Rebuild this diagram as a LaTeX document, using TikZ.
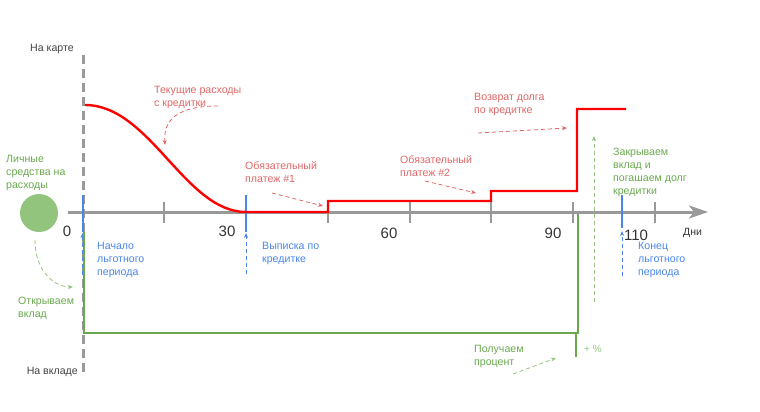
\documentclass[tikz,border=0pt]{standalone}
\usepackage{fontspec}
\setmainfont{Liberation Sans}
\usetikzlibrary{arrows.meta}
\definecolor{axgray}{HTML}{999999}
\definecolor{dgray}{HTML}{434343}
\definecolor{numgray}{HTML}{333333}
\definecolor{lred}{HTML}{E06666}
\definecolor{bred}{HTML}{FF0000}
\definecolor{bblue}{HTML}{4A86E8}
\definecolor{tblue}{HTML}{4A86E8}
\definecolor{ggreen}{HTML}{6AA84F}
\definecolor{lgreen}{HTML}{93C47D}
\tikzset{
  lbl/.style={font=\fontsize{10.6}{13}\selectfont, align=left, inner sep=0pt, anchor=north west},
  redlbl/.style={lbl, text=lred},
  bluelbl/.style={lbl, text=tblue},
  greenlbl/.style={lbl, text=ggreen},
  numlbl/.style={font=\fontsize{15}{15}\selectfont, text=numgray, inner sep=0pt, anchor=base},
  sidelbl/.style={font=\fontsize{10.6}{13}\selectfont, text=dgray, inner sep=0pt, anchor=base east},
  tickline/.style={draw=axgray, line width=1.6pt},
  bluemark/.style={draw=bblue, line width=1.8pt},
  greenline/.style={draw=ggreen, line width=2pt},
  hint/.style={dashed, dash pattern=on 4pt off 3pt, line width=0.8pt, -{Stealth[length=5pt,width=4pt]}},
}
\begin{document}
\begin{tikzpicture}[x=1pt,y=-1pt]
\useasboundingbox (0,0) rectangle (760,412);
% coordinates
\coordinate (axs) at (68,212);
\coordinate (axe) at (708,212);
\coordinate (vt) at (83,55);
\coordinate (vb) at (83,374);
% dashed vertical
\draw[axgray, line width=3pt, dash pattern=on 9pt off 5pt] (vt) -- (vb);
% axis
\draw[axgray, line width=3pt, -{Stealth[length=19pt,width=13pt,inset=5pt]}] (axs) -- (axe);
% ticks
\foreach \x in {164,328,410,491,573,655}{
  \draw[tickline] (\x,202) -- (\x,223);
}
% green circle
\node[circle, fill=lgreen, minimum size=38pt, inner sep=0pt] (circ) at (39,213) {};
% blue hint arrows
\coordinate (b1s) at (82.5,275); \coordinate (b1e) at (82.5,233);
\coordinate (b2s) at (246,274); \coordinate (b2e) at (246,233);
\coordinate (b3s) at (622,276); \coordinate (b3e) at (622,231);
\draw[hint, bblue] (b1s) -- (b1e);
\draw[hint, bblue] (b2s) -- (b2e);
\draw[hint, bblue] (b3s) -- (b3e);
% green deposit line
\coordinate (g0) at (84,232);
\coordinate (g1) at (84,333);
\coordinate (g2) at (576,333);
\coordinate (g3) at (576,357);
\coordinate (g4) at (578,214);
\coordinate (g5) at (578,334);
\draw[greenline] (g0) -- (g1) -- (g2) -- (g3);
\draw[greenline] (g5) -- (g4);
% blue marks
\draw[bluemark] (83,195) -- (83,232);
\draw[bluemark] (246,195) -- (246,232);
\draw[bluemark] (622,195) -- (622,228);
% red curve
\coordinate (r0) at (85,105);
\coordinate (r1) at (246,212);
\draw[bred, line width=2.4pt] (r0) .. controls (150,105) and (185,212) .. (r1)
  -- (328,212) -- (328,201) -- (491,201) -- (491,191) -- (577,191) -- (577,109) -- (626,109);
% labels
\node[sidelbl] (nakarte) at (74,51.5) {На карте};
\node[sidelbl] (navklade) at (78,374.5) {На вкладе};
\node[numlbl] (n0) at (67,236) {0};
\node[numlbl] (n30) at (227,236) {30};
\node[numlbl] (n60) at (389,238) {60};
\node[numlbl] (n90) at (553,238) {90};
\node[numlbl] (n110) at (636,240) {110};
\node[font=\fontsize{10.5}{12}\selectfont, text=numgray, inner sep=0pt, anchor=base west] (dni) at (683,235) {Дни};
\node[redlbl] (tek) at (154,86) {Текущие расходы\\с кредитки};
\node[redlbl] (ob1) at (245,161.5) {Обязательный\\платеж \#1};
\node[redlbl] (ob2) at (400,155) {Обязательный\\платеж \#2};
\node[redlbl] (voz) at (474,93) {Возврат долга\\по кредитке};
\node[greenlbl] (lich) at (6,155) {Личные\\средства на\\расходы};
\node[greenlbl] (otk) at (18,297) {Открываем\\вклад};
\node[greenlbl] (zak) at (613,147.5) {Закрываем\\вклад и\\погашаем долг\\кредитки};
\node[greenlbl] (pol) at (474,345) {Получаем\\процент};
\node[lbl, text=lgreen, font=\fontsize{10}{12}\selectfont] (pct) at (584,345) {+ \%};
\node[bluelbl] (nach) at (97,242) {Начало\\льготного\\периода};
\node[bluelbl] (vyp) at (262,242) {Выписка по\\кредитке};
\node[bluelbl] (kon) at (638,242) {Конец\\льготного\\периода};
% hint arrows red
\coordinate (h1s) at (218,106); \coordinate (h1e) at (165,145);
\draw[hint, lred] (h1s) .. controls (180,106) and (163,118) .. (h1e);
\coordinate (h2s) at (272,193); \coordinate (h2e) at (323,206);
\draw[hint, lred] (h2s) -- (h2e);
\coordinate (h3s) at (425,181); \coordinate (h3e) at (476,193);
\draw[hint, lred] (h3s) -- (h3e);
\coordinate (h4s) at (478,133); \coordinate (h4e) at (567,128);
\draw[hint, lred] (h4s) -- (h4e);
% hint arrows green
\coordinate (h5s) at (35,240); \coordinate (h5e) at (73,287);
\draw[hint, lgreen] (h5s) .. controls (35,272) and (55,287) .. (h5e);
\coordinate (h6s) at (513,374); \coordinate (h6e) at (556,358);
\draw[hint, lgreen] (h6s) -- (h6e);
\coordinate (h7s) at (594,302); \coordinate (h7e) at (594,136);
\draw[hint, lgreen] (h7s) -- (h7e);
\end{tikzpicture}
\end{document}
